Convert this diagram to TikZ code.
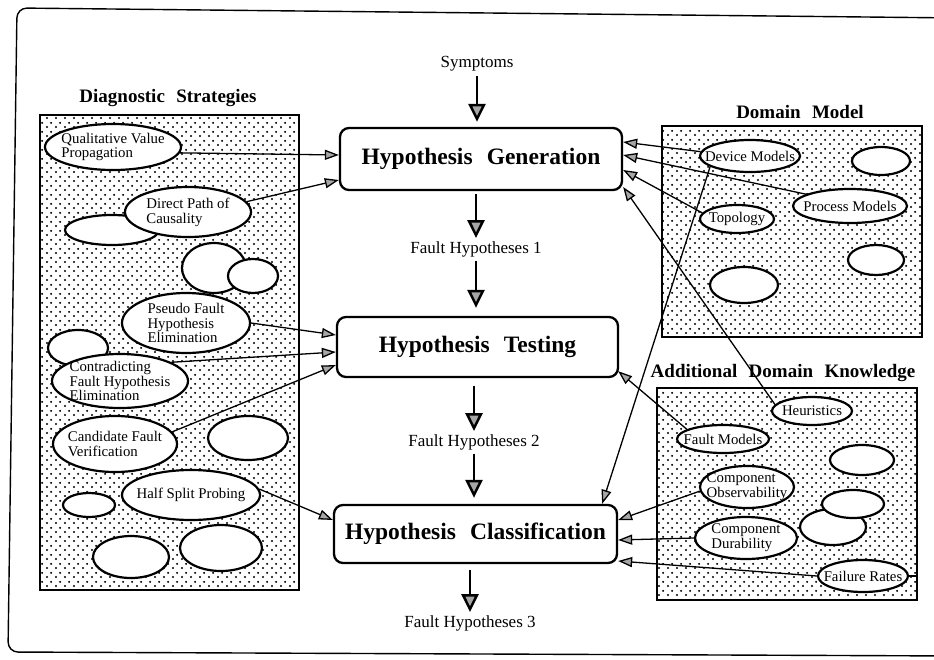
\documentclass[tikz,border=0pt]{standalone}
\usepackage{fontspec}
\setmainfont{Liberation Serif}
\usetikzlibrary{shapes.geometric,arrows.meta,patterns,calc}

% staggered dot screen used for the knowledge panels
\pgfdeclarepatternformonly{scandots}{\pgfqpoint{0pt}{0pt}}{\pgfqpoint{9pt}{9pt}}{\pgfqpoint{9pt}{9pt}}{%
  \pgfpathcircle{\pgfqpoint{2.25pt}{2.25pt}}{1.25pt}%
  \pgfpathcircle{\pgfqpoint{6.75pt}{6.75pt}}{1.25pt}%
  \pgfusepath{fill}}

\begin{document}
\begin{tikzpicture}[x=1pt,y=-1pt,
  panel/.style={draw=black,line width=1.7pt,pattern=scandots,inner sep=0pt},
  blob/.style={ellipse,draw=black,fill=white,line width=2.2pt,inner sep=-10pt,
    align=left,font=\fontsize{14.8}{14.8}\selectfont},
  stage/.style={draw=black,rounded corners=9pt,line width=2.3pt,fill=white,
    font=\fontsize{23.5}{26}\selectfont\bfseries},
  flowlabel/.style={font=\fontsize{17}{19}\selectfont,inner sep=1pt},
  paneltitle/.style={font=\fontsize{19}{21}\selectfont\bfseries,inner sep=1pt},
  tip/.style={-{Triangle[length=14pt,width=10pt,fill=gray!70]},line width=1.3pt},
  bigtip/.style={-{Triangle[length=18pt,width=17pt,fill=gray!70]},line width=2.5pt},
]
\useasboundingbox (0,0) rectangle (934,659);
\clip (0,0) rectangle (934,659);

% outer frame
\draw[line width=1.4pt,rounded corners=10pt] (960,18) -- (17,8) -- (8,652) -- (960,656);

% ---------- panels ----------
\node[paneltitle] (dstitle) at (168,98) {Diagnostic\hspace{0.6em}Strategies};
\node[panel,minimum width=259pt,minimum height=475pt] (ds) at (169.5,352.5) {};

\node[paneltitle] (dmtitle) at (800,112) {Domain\hspace{0.6em}Model};
\node[panel,minimum width=260pt,minimum height=211pt] (dm) at (792,231.5) {};

\node[paneltitle] (adktitle) at (783,373) {Additional\hspace{0.6em}Domain\hspace{0.6em}Knowledge};
\node[panel,minimum width=260pt,minimum height=212pt] (adk) at (787,494) {};

% ---------- diagnostic strategies ----------
\node[blob,minimum width=136pt,minimum height=46pt] (qvp) at (113,147) {Qualitative Value\\Propagation};
\node[blob,minimum width=94pt,minimum height=30pt] (ds1) at (112,230) {};
\node[blob,minimum width=126pt,minimum height=50pt] (dpc) at (188,212) {Direct Path of\\Causality};
\node[blob,minimum width=64pt,minimum height=50pt] (ds2) at (214,268) {};
\node[blob,minimum width=50pt,minimum height=34pt] (ds3) at (253,276) {};
\node[blob,minimum width=128pt,minimum height=60pt] (pfhe) at (186,323) {Pseudo Fault\\Hypothesis\\Elimination};
\node[blob,minimum width=60pt,minimum height=36pt] (ds4) at (78,348) {};
\node[blob,minimum width=136pt,minimum height=54pt] (cfhe) at (120,381) {Contradicting\\Fault Hypothesis\\Elimination};
\node[blob,minimum width=124pt,minimum height=56pt] (cfv) at (115,444) {Candidate Fault\\Verification};
\node[blob,minimum width=80pt,minimum height=44pt] (ds5) at (248,438) {};
\node[blob,minimum width=138pt,minimum height=50pt] (hsp) at (191,495) {Half Split Probing};
\node[blob,minimum width=52pt,minimum height=24pt] (ds6) at (89,505) {};
\node[blob,minimum width=76pt,minimum height=42pt] (ds7) at (131,557) {};
\node[blob,minimum width=82pt,minimum height=46pt] (ds8) at (221,548) {};

% ---------- domain model ----------
\node[blob,minimum width=100pt,minimum height=32pt] (dev) at (750,156) {Device Models};
\node[blob,minimum width=58pt,minimum height=28pt] (dm1) at (881,161) {};
\node[blob,minimum width=114pt,minimum height=34pt] (proc) at (850,206) {Process Models};
\node[blob,minimum width=74pt,minimum height=28pt] (topo) at (737,219) {Topology};
\node[blob,minimum width=56pt,minimum height=30pt] (dm2) at (876,260) {};
\node[blob,minimum width=68pt,minimum height=36pt] (dm3) at (744,285) {};

% ---------- additional domain knowledge ----------
\node[blob,minimum width=80pt,minimum height=28pt] (heur) at (812,411) {Heuristics};
\node[blob,minimum width=92pt,minimum height=28pt] (fm) at (723,439) {Fault Models};
\node[blob,minimum width=64pt,minimum height=30pt] (ak1) at (862,460) {};
\node[blob,minimum width=94pt,minimum height=42pt] (co) at (747,487) {Component\\Observability};
\node[blob,minimum width=66pt,minimum height=36pt] (ak3) at (833,527) {};
\node[blob,minimum width=62pt,minimum height=28pt] (ak2) at (853,504) {};
\node[blob,minimum width=102pt,minimum height=42pt] (cd) at (746,538) {Component\\Durability};
\node[blob,minimum width=90pt,minimum height=32pt] (fr) at (863,576) {Failure Rates};

% ---------- central flow ----------
\node[flowlabel] (sym) at (477,64) {Symptoms};
\node[stage,minimum width=282pt,minimum height=62pt] (gen) at (481,159) {Hypothesis\hspace{0.6em}Generation};
\node[flowlabel] (fh1) at (476,249) {Fault Hypotheses 1};
\node[stage,minimum width=281pt,minimum height=60pt] (test) at (477.5,347) {Hypothesis\hspace{0.6em}Testing};
\node[flowlabel] (fh2) at (474,442) {Fault Hypotheses 2};
\node[stage,minimum width=283pt,minimum height=58pt] (cls) at (475.5,534) {Hypothesis\hspace{0.6em}Classification};
\node[flowlabel] (fh3) at (470,623) {Fault Hypotheses 3};

\draw[bigtip,shorten <=3pt,shorten >=5pt] (sym.south) -- (sym.south |- gen.north);
\draw[bigtip,shorten <=3pt,shorten >=2pt] (fh1.north |- gen.south) -- (fh1.north);
\draw[bigtip,shorten <=3pt,shorten >=8pt] (fh1.south) -- (fh1.south |- test.north);
\draw[bigtip,shorten <=8pt,shorten >=2pt] (fh2.north |- test.south) -- (fh2.north);
\draw[bigtip,shorten <=3pt,shorten >=6pt] (fh2.south) -- (fh2.south |- cls.north);
\draw[bigtip,shorten <=6pt,shorten >=2pt] (fh3.north |- cls.south) -- (fh3.north);

% ---------- strategies feeding the stages ----------
\draw[tip] (qvp.-5) -- ([yshift=4pt]gen.west);
\draw[tip] (dpc.10) -- ([yshift=-21pt]gen.west);
\draw[tip] (pfhe.east) -- ([yshift=12pt]test.west);
\draw[tip] (cfhe.20) -- ([yshift=-5pt]test.west);
\draw[tip] (cfv.12) -- ([yshift=-18pt]test.west);
\draw[tip] (hsp.5) -- ([yshift=14pt]cls.west);

% ---------- domain knowledge feeding the stages ----------
\draw[tip] (dev.175) -- ([yshift=17pt]gen.east);
\draw[tip] (proc.165) -- ([yshift=4pt]gen.east);
\draw[tip] (topo.170) -- ([yshift=-11pt]gen.east);
\draw[tip] (heur.170) -- ([yshift=-28pt]gen.east);
\draw[tip] (dev.195) -- ([xshift=-16pt]cls.north east);
\draw[tip] (fm.165) -- ([xshift=-1pt,yshift=7pt]test.south east);
\draw[tip] (co.185) -- ([yshift=14pt]cls.east);
\draw[tip] (cd.west) -- ([yshift=-6pt]cls.east);
\draw[tip] (fr.west) -- ([yshift=-27pt]cls.east);
\draw[line width=1.3pt] (fr.east) -- (fr.east -| adk.east);

\end{tikzpicture}
\end{document}
